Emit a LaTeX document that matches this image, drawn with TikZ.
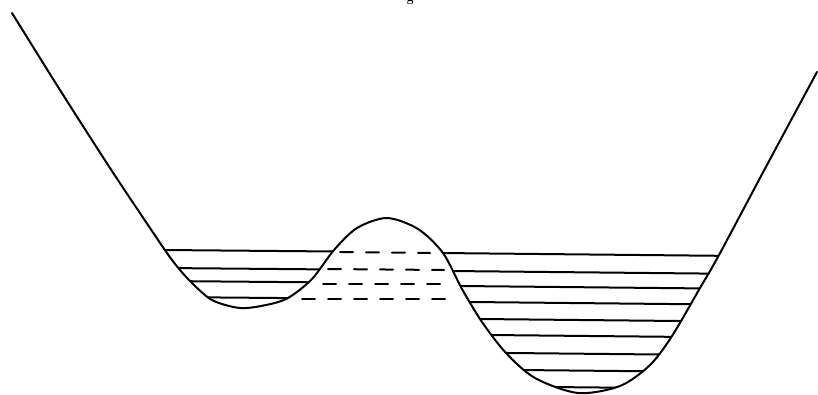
\documentclass[tikz,border=0pt]{standalone}
\usepackage{fontspec}
\setmainfont{Liberation Serif}
\tikzset{
  wall/.style={line width=2pt},
  rung/.style={line width=2pt},
  tunnel/.style={line width=2pt, dash pattern=on 13pt off 13pt},
}
\begin{document}
\begin{tikzpicture}[x=1pt, y=-1pt, line join=round, line cap=round]
  \useasboundingbox (0,0) rectangle (818,394);
  % cut-off caption letter at the top edge
  \begin{scope}
    \clip (0,0) rectangle (818,394);
    \node[anchor=base, font=\fontsize{14}{16}\selectfont, inner sep=0pt] (cap) at (410,1) {g};
  \end{scope}
  % double well
  \draw[wall] plot[smooth] coordinates {
    (12,13) (60,90) (110,168) (150,228) (172,260) (190,281) (212,300) (240,308)
    (266,305) (288,298) (312,279) (334,250) (357,228) (387,218) (418,229)
    (443,253) (462,289) (482,322) (506,353) (535,378) (578,393) (620,386)
    (650,365) (672,336) (700,288) (719,255) (768,163) (817,72)};
  % levels in the wells, cut at the wall
  \begin{scope}
    \clip plot[smooth] coordinates {
      (12,13) (60,90) (110,168) (150,228) (172,260) (190,281) (212,300) (240,308)
      (266,305) (288,298) (312,279) (334,250) (357,228) (387,218) (418,229)
      (443,253) (462,289) (482,322) (506,353) (535,378) (578,393) (620,386)
      (650,365) (672,336) (700,288) (719,255) (768,163) (817,72)}
      -- (817,0) -- (12,0) -- cycle;
    \foreach \ya/\yb in {249.7/251.8, 267.7/269.8, 280.7/282.8, 296.7/298.8}
      \draw[rung] (130,\ya) -- (370,\yb);
    \foreach \ya/\yb in {252.7/256.4, 270.6/274.3, 285.5/289.2, 301.4/305.1, 318.3/322,
        334.2/337.9, 352/355.7, 368.9/372.6, 385.6/389.3}
      \draw[rung] (410,\ya) -- (780,\yb);
  \end{scope}
  % levels under the barrier
  \foreach \xa/\ya/\xb/\yb in {340/252/430/253, 328/269/444/270, 323/284/450/284, 302/299/457/299}
    \draw[tunnel] (\xa,\ya) -- (\xb,\yb);
\end{tikzpicture}
\end{document}
